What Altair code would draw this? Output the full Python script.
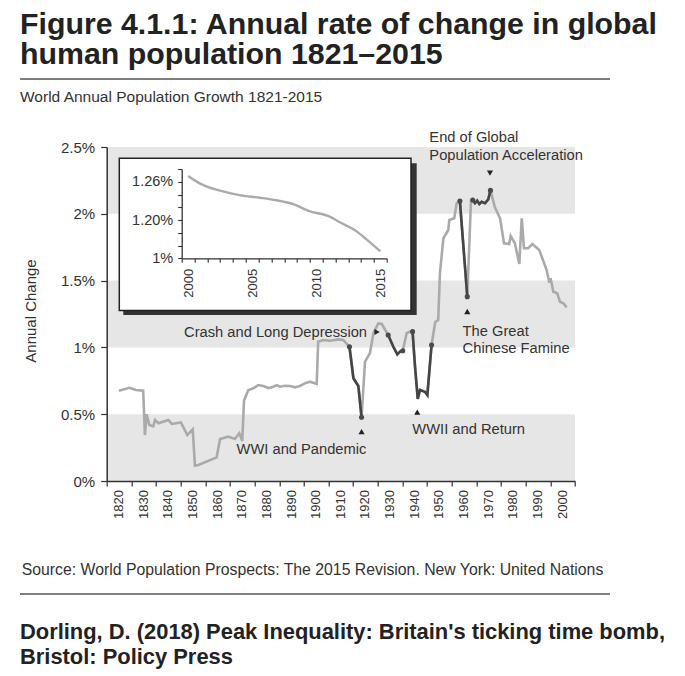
import altair as alt
import pandas as pd

FONT = "Liberation Sans"

# ---------------- text ----------------
TITLE_LINES = ["Figure 4.1.1: Annual rate of change in global",
               "human population 1821\u20132015"]
SUBTITLE = "World Annual Population Growth 1821-2015"
SOURCE = "Source: World Population Prospects: The 2015 Revision. New York: United Nations"
CITATION = ["Dorling, D. (2018) Peak Inequality: Britain's ticking time bomb,",
            "Bristol: Policy Press"]
Y_TITLE = "Annual Change"

# ---------------- main series (year position on axis, % growth) ----------------
YEARS = [1820.0, 1824.2, 1826.9, 1829.8, 1830.5, 1831.2, 1832.3, 1833.9, 1834.6, 1836.0,
         1840.0, 1841.4, 1845.1, 1847.7, 1849.9, 1850.8, 1852.2, 1859.6, 1861.0, 1864.3,
         1867.0, 1868.8, 1870.0, 1870.7, 1872.4, 1874.5, 1876.5, 1878.5, 1880.6, 1882.6,
         1884.0, 1885.3, 1887.3, 1889.4, 1891.4, 1893.4, 1895.4, 1897.5, 1900.2, 1900.8,
         1902.9, 1905.6, 1909.0, 1911.0, 1913.5, 1915.1, 1917.1, 1918.4, 1919.8, 1921.8,
         1923.2, 1925.2, 1926.6, 1929.2, 1931.3, 1932.9, 1934.0, 1935.1, 1936.7, 1938.0,
         1939.1, 1940.1, 1941.2, 1942.1, 1944.1, 1945.1, 1946.8, 1948.3, 1949.5, 1950.2,
         1951.6, 1953.6, 1954.0, 1956.0, 1957.0, 1958.3, 1961.3, 1962.8, 1963.5, 1964.4,
         1965.3, 1966.2, 1967.1, 1968.5, 1969.8, 1970.7, 1972.5, 1974.6, 1976.2, 1978.3,
         1978.9, 1980.6, 1982.4, 1983.4, 1984.3, 1986.0, 1987.7, 1990.5, 1993.5, 1994.6,
         1995.1, 1996.2, 1997.8, 1998.9, 2000.3, 2001.6]
GROWTH = [0.676, 0.698, 0.681, 0.676, 0.344, 0.500, 0.420, 0.410, 0.457, 0.432,
          0.457, 0.427, 0.439, 0.344, 0.387, 0.115, 0.120, 0.177, 0.314, 0.332,
          0.314, 0.357, 0.300, 0.600, 0.680, 0.694, 0.718, 0.711, 0.696, 0.706,
          0.718, 0.706, 0.713, 0.711, 0.701, 0.711, 0.731, 0.743, 0.726, 1.043,
          1.055, 1.050, 1.060, 1.055, 1.005, 0.769, 0.711, 0.477, 0.893, 0.956,
          1.106, 1.180, 1.175, 1.093, 1.005, 0.948, 0.968, 0.975, 1.106, 1.118,
          1.118, 0.855, 0.614, 0.681, 0.668, 0.644, 1.018, 1.190, 1.205, 1.555,
          1.817, 1.879, 1.954, 1.966, 2.079, 2.096, 1.380, 2.098, 2.103, 2.079,
          2.098, 2.073, 2.090, 2.079, 2.108, 2.175, 2.049, 1.966, 1.779, 1.774,
          1.834, 1.779, 1.624, 1.966, 1.742, 1.742, 1.774, 1.729, 1.579, 1.484,
          1.517, 1.417, 1.405, 1.342, 1.330, 1.300]

# highlighted (dark) episodes: first and last year of each
DARK_SEGMENTS = [(1913.5, 1918.4), (1929.2, 1935.1), (1939.1, 1946.8),
                 (1958.3, 1961.3), (1963.5, 1970.7)]

# grey bands
BAND_FROM = [0.0, 1.0, 2.0]
BAND_TO = [0.5, 1.5, 2.5]

# annotations
ANNOT_TEXT = ["End of Global", "Population Acceleration", "The Great", "Chinese Famine",
              "Crash and Long Depression", "WWI and Pandemic", "WWII and Return"]
ANNOT_YEAR = [1945.9, 1945.9, 1959.4, 1959.4, 1846.4, 1867.7, 1939.0]
ANNOT_VALUE = [2.540, 2.403, 1.085, 0.956, 1.076, 0.202, 0.352]

POINTER_YEAR = [1970.5, 1961.3, 1924.7, 1918.4, 1941.0]
POINTER_VALUE = [2.305, 1.269, 1.115, 0.370, 0.516]
POINTER_SHAPE = ["triangle-down", "triangle-up", "triangle-right", "triangle-up", "triangle-up"]

# axis ticks (ticks sit between decade labels)
X_TICKS = list(range(1815, 2006, 10))
X_LABELS = list(range(1820, 2001, 10))
Y_TICKS = [0, 0.5, 1, 1.5, 2, 2.5]

# ---------------- inset ----------------
INSET_YEARS = [2000.0, 2000.9, 2002.5, 2004.0, 2005.6, 2006.9, 2008.2, 2009.4, 2011.1,
               2011.8, 2013.1, 2013.9, 2015.0]
INSET_GROWTH = [1.269, 1.2575, 1.246, 1.239, 1.235, 1.231, 1.225, 1.2145, 1.205,
                1.197, 1.183, 1.170, 1.151]
INSET_X_TICKS = [1999.5 + i for i in range(17)]
INSET_Y_TICKS = [1.14, 1.16, 1.18, 1.20, 1.22, 1.24, 1.26, 1.28]
INSET_Y_LABELS = {1.14: "1%", 1.20: "1.20%", 1.26: "1.26%"}

W, H = 468.3, 334
TXT = "#333333"

# ---------------- helpers for page furniture ----------------
def one():
    return pd.DataFrame({"a": [0]})


def px_text(text, x, y, size, weight="normal", color=TXT, align="left", angle=0,
            baseline="alphabetic"):
    return alt.Chart(pd.DataFrame({"t": [text]})).mark_text(
        align=align, baseline=baseline, fontSize=size, fontWeight=weight,
        color=color, font=FONT, angle=angle
    ).encode(x=alt.value(x), y=alt.value(y), text="t:N")


def px_rule(x1, x2, y, color="#555555", width=1.5):
    return alt.Chart(one()).mark_rule(color=color, strokeWidth=width).encode(
        x=alt.value(x1), x2=alt.value(x2), y=alt.value(y))


def px_rect(x1, x2, y1, y2, fill, stroke=None, sw=0):
    kw = dict(fill=fill)
    if stroke:
        kw.update(stroke=stroke, strokeWidth=sw)
    return alt.Chart(one()).mark_rect(**kw).encode(
        x=alt.value(x1), x2=alt.value(x2), y=alt.value(y1), y2=alt.value(y2))


# ---------------- main plot ----------------
xs = alt.Scale(domain=[1815, 2005], nice=False, zero=False)
ys = alt.Scale(domain=[0, 2.5], nice=False, zero=False)

main_x_axis = alt.Axis(
    orient="bottom", values=X_TICKS, labels=False, tickSize=5, grid=False,
    domainWidth=1.5, tickWidth=1.2, zindex=1)
main_y_axis = alt.Axis(
    orient="left", values=Y_TICKS, labelExpr="datum.value + '%'",
    tickSize=6, labelPadding=6, labelFontSize=15, labelFlush=False,
    labelOverlap=False, grid=False, domainWidth=1.5, tickWidth=1.2, zindex=1)

X = lambda f: alt.X(f, scale=xs, axis=main_x_axis, title=None)
Y = lambda f: alt.Y(f, scale=ys, axis=main_y_axis, title=None)

series = pd.DataFrame({"year": YEARS, "growth": GROWTH})
dark_parts, dot_rows = [], []
for i, (a, b) in enumerate(DARK_SEGMENTS):
    part = series[(series.year >= a - 1e-6) & (series.year <= b + 1e-6)].copy()
    part["seg"] = i
    dark_parts.append(part)
    dot_rows.append(part.iloc[[0, -1]])
dark = pd.concat(dark_parts)
dots = pd.concat(dot_rows)

bands_df = pd.DataFrame({"lo": BAND_FROM, "hi": BAND_TO})
bands = alt.Chart(bands_df).mark_rect(color="#e6e6e6").encode(
    x=alt.value(0), x2=alt.value(W), y=Y("lo:Q"), y2="hi:Q")

light = alt.Chart(series).mark_line(color="#aaaaaa", strokeWidth=2.6).encode(
    x=X("year:Q"), y=Y("growth:Q"))

dark_line = alt.Chart(dark).mark_line(color="#454545", strokeWidth=2.6).encode(
    x=X("year:Q"), y=Y("growth:Q"), detail="seg:N")

dot_marks = alt.Chart(dots).mark_circle(color="#4a4a4a", size=26, opacity=1).encode(
    x=X("year:Q"), y=Y("growth:Q"))

annot_df = pd.DataFrame({"t": ANNOT_TEXT, "year": ANNOT_YEAR, "v": ANNOT_VALUE})
annots = alt.Chart(annot_df).mark_text(
    align="left", baseline="alphabetic", fontSize=14.7, font=FONT, color=TXT
).encode(x=X("year:Q"), y=Y("v:Q"), text="t:N")

ptr_df = pd.DataFrame({"year": POINTER_YEAR, "v": POINTER_VALUE, "s": POINTER_SHAPE})
pointers = alt.Chart(ptr_df).mark_point(filled=True, color="#222222", size=38, opacity=1).encode(
    x=X("year:Q"), y=Y("v:Q"), shape=alt.Shape("s:N", scale=None))

# decade labels, rotated, drawn through the x scale below the axis
xlab_df = pd.DataFrame({"year": X_LABELS, "lab": [str(v) for v in X_LABELS]})
xlabels = alt.Chart(xlab_df).mark_text(
    angle=270, align="right", baseline="middle", fontSize=13, font=FONT, color=TXT
).encode(x=X("year:Q"), y=alt.value(H + 9), text="lab:N")

main = alt.layer(bands, light, dark_line, dot_marks, annots, pointers, xlabels)

# ---------------- inset ----------------
ixs = alt.Scale(domain=[1999.5, 2015.5], range=[75, 280], nice=False, zero=False)
iys = alt.Scale(domain=[1.14, 1.28], range=[111.3, 22], nice=False, zero=False)

ylab_expr = " : ".join(
    f"datum.value == {k} ? '{v}'" for k, v in INSET_Y_LABELS.items()) + " : ''"

inset_x_axis = alt.Axis(
    orient="bottom", offset=-222.7, values=INSET_X_TICKS,
    labelExpr="(datum.value + 0.5) % 5 == 0 ? '' + (datum.value + 0.5) : ''",
    labelAngle=270, labelOffset=6.4, labelPadding=6, tickSize=4, labelFontSize=13,
    labelFlush=False, labelOverlap=False, grid=False, domainWidth=1.3, tickWidth=1.1,
    zindex=1)
inset_y_axis = alt.Axis(
    orient="left", offset=-75, values=INSET_Y_TICKS, labelExpr=ylab_expr,
    tickSize=4, labelPadding=5, labelFontSize=14.5, labelFlush=False,
    labelOverlap=False, grid=False, domainWidth=1.3, tickWidth=1.1, zindex=1)

inset_df = pd.DataFrame({"year": INSET_YEARS, "growth": INSET_GROWTH})
inset_line = alt.Chart(inset_df).mark_line(color="#aaaaaa", strokeWidth=2.4,
                                           interpolate="monotone").encode(
    x=alt.X("year:Q", scale=ixs, axis=inset_x_axis, title=None),
    y=alt.Y("growth:Q", scale=iys, axis=inset_y_axis, title=None))

shadow = px_rect(16.6, 310, 16.3, 168, "#333333")
box = px_rect(12.6, 304.3, 11.3, 163.5, "#ffffff", stroke="#222222", sw=1.5)
inset = alt.layer(shadow, box, inset_line)

# ---------------- page furniture ----------------
furniture = [
    px_text(TITLE_LINES[0], -86.7, -113, 30.3, weight="bold", color="#222222"),
    px_text(TITLE_LINES[1], -86.7, -83, 30.3, weight="bold", color="#222222"),
    px_rule(-86.7, 503.3, -68),
    px_text(SUBTITLE, -86.7, -45, 15.5),
    px_text(Y_TITLE, -75.7, 164, 15, align="center", angle=270, baseline="middle"),
    px_text(SOURCE, -85, 428, 15.8),
    px_rule(-86.7, 503.3, 447),
    px_text(CITATION[0], -86.7, 492, 21.9, weight="bold", color="#222222"),
    px_text(CITATION[1], -86.7, 517, 21.9, weight="bold", color="#222222"),
]

chart = alt.layer(*furniture, main, inset).resolve_scale(
    x="independent", y="independent"
).properties(
    width=W, height=H,
    autosize=alt.AutoSizeParams(type="none"),
    padding={"left": 98.7, "top": 139, "right": 100, "bottom": 189},
).configure_view(stroke=None).configure_axis(
    labelFont=FONT, labelColor=TXT, domainColor="#333333", tickColor="#333333")

chart.save("out.html", embed_options={"renderer": "svg", "actions": False})
